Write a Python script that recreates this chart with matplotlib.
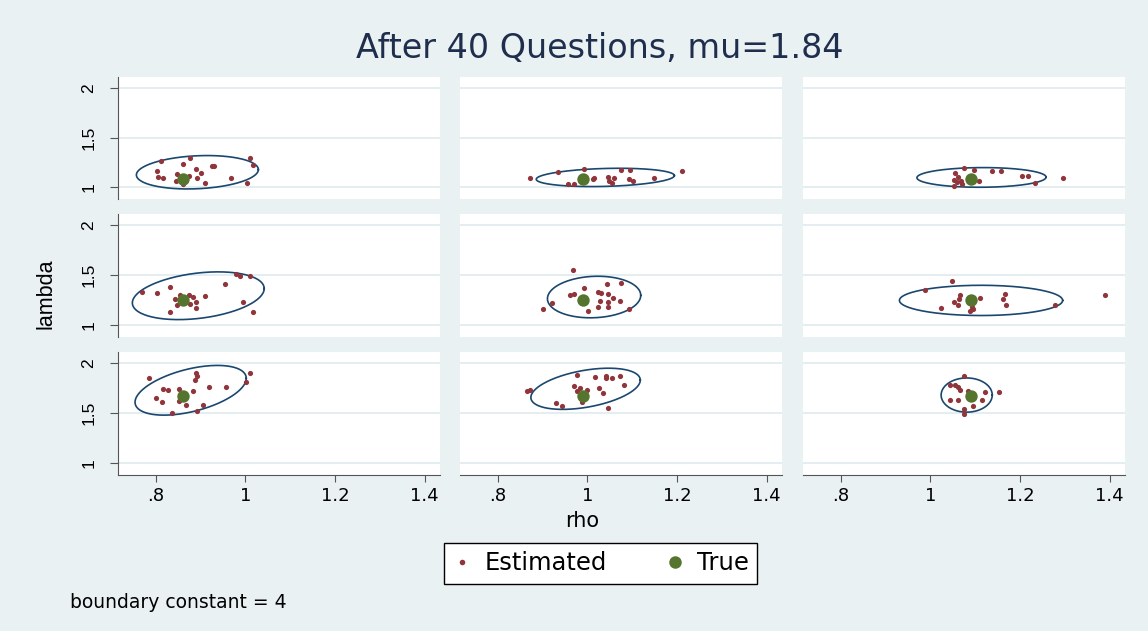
import numpy as np
import matplotlib
matplotlib.use("Agg")
import matplotlib.pyplot as plt
from matplotlib.lines import Line2D

# true parameter values: rho varies by column, lambda by row
true_rho = [0.86, 0.99, 1.09]
true_lam = [1.085, 1.255, 1.675]

# estimated (rho, lambda) pairs for each cell, row by row
rho_r1c1 = [0.811, 0.876, 1.011, 1.017, 0.861, 0.926, 0.931, 0.890, 0.802, 0.902,
            0.847, 0.874, 0.806, 0.817, 0.893, 0.968, 0.846, 0.862, 0.910, 1.004]
lam_r1c1 = [1.269, 1.296, 1.296, 1.228, 1.231, 1.218, 1.211, 1.188, 1.161, 1.145,
            1.131, 1.115, 1.101, 1.098, 1.091, 1.098, 1.060, 1.037, 1.047, 1.044]

rho_r1c2 = [0.871, 0.934, 0.992, 1.074, 1.096, 1.210, 0.956, 0.971, 1.012, 1.015,
            1.047, 1.060, 1.049, 1.056, 1.093, 1.101, 1.149]
lam_r1c2 = [1.091, 1.151, 1.181, 1.178, 1.171, 1.161, 1.030, 1.034, 1.088, 1.095,
            1.108, 1.095, 1.067, 1.047, 1.080, 1.060, 1.091]

rho_r1c3 = [1.076, 1.098, 1.138, 1.157, 1.054, 1.062, 1.052, 1.068, 1.059, 1.070,
            1.053, 1.109, 1.205, 1.218, 1.233, 1.295]
lam_r1c3 = [1.195, 1.178, 1.168, 1.168, 1.145, 1.108, 1.077, 1.067, 1.050, 1.034,
            1.014, 1.060, 1.115, 1.118, 1.044, 1.091]

rho_r2c1 = [0.770, 0.802, 0.833, 0.842, 0.854, 0.864, 0.874, 0.884, 0.890, 0.876,
            0.848, 0.890, 0.832, 0.910, 0.954, 0.980, 0.989, 1.011, 0.994, 1.017]
lam_r2c1 = [1.330, 1.324, 1.385, 1.263, 1.304, 1.256, 1.304, 1.280, 1.233, 1.213,
            1.196, 1.172, 1.128, 1.290, 1.415, 1.510, 1.489, 1.492, 1.226, 1.128]

rho_r2c2 = [0.969, 0.992, 1.043, 1.076, 0.961, 0.971, 1.023, 1.030, 1.045, 1.058,
            1.029, 1.047, 1.073, 1.023, 1.046, 1.002, 0.921, 0.902, 1.092]
lam_r2c2 = [1.547, 1.371, 1.408, 1.418, 1.304, 1.314, 1.330, 1.320, 1.314, 1.270,
            1.243, 1.229, 1.239, 1.175, 1.182, 1.142, 1.223, 1.162, 1.158]

rho_r2c3 = [1.048, 0.989, 1.067, 1.063, 1.052, 1.061, 1.024, 1.110, 1.093, 1.089,
            1.096, 1.167, 1.163, 1.168, 1.279, 1.389]
lam_r2c3 = [1.439, 1.355, 1.297, 1.263, 1.233, 1.196, 1.172, 1.270, 1.178, 1.135,
            1.155, 1.314, 1.259, 1.196, 1.196, 1.297]

rho_r3c1 = [0.785, 0.889, 0.893, 0.887, 1.010, 1.002, 0.817, 0.827, 0.852, 0.883,
            0.918, 0.956, 0.800, 0.815, 0.852, 0.867, 0.905, 0.836, 0.893]
lam_r3c1 = [1.850, 1.900, 1.870, 1.837, 1.900, 1.817, 1.740, 1.734, 1.744, 1.727,
            1.764, 1.767, 1.657, 1.617, 1.627, 1.580, 1.584, 1.504, 1.517]

rho_r3c2 = [0.976, 1.017, 1.041, 1.041, 1.056, 1.073, 1.082, 0.971, 0.984, 0.978,
            1.000, 1.027, 1.035, 0.989, 0.930, 0.943, 1.047, 0.865, 0.872]
lam_r3c2 = [1.884, 1.867, 1.877, 1.850, 1.850, 1.874, 1.784, 1.770, 1.754, 1.727,
            1.734, 1.754, 1.700, 1.610, 1.600, 1.567, 1.547, 1.724, 1.734]

rho_r3c3 = [1.074, 1.044, 1.056, 1.061, 1.065, 1.084, 1.121, 1.152, 1.044, 1.061,
            1.116, 1.096, 1.074, 1.076]
lam_r3c3 = [1.877, 1.784, 1.784, 1.760, 1.734, 1.727, 1.717, 1.710, 1.637, 1.630,
            1.634, 1.570, 1.537, 1.487]

est_rho = [[rho_r1c1, rho_r1c2, rho_r1c3],
           [rho_r2c1, rho_r2c2, rho_r2c3],
           [rho_r3c1, rho_r3c2, rho_r3c3]]
est_lam = [[lam_r1c1, lam_r1c2, lam_r1c3],
           [lam_r2c1, lam_r2c2, lam_r2c3],
           [lam_r3c1, lam_r3c2, lam_r3c3]]

# confidence ellipses: centre, half-extents, and tilt (sin of phase shift)
ell_cx = [[0.893, 1.040, 1.114], [0.895, 1.015, 1.113], [0.878, 0.996, 1.081]]
ell_cy = [[1.151, 1.099, 1.099], [1.293, 1.280, 1.246], [1.730, 1.745, 1.682]]
ell_rx = [[0.136, 0.154, 0.144], [0.147, 0.104, 0.182], [0.124, 0.122, 0.057]]
ell_ry = [[0.168, 0.092, 0.099], [0.240, 0.209, 0.152], [0.250, 0.207, 0.172]]
ell_tilt = [[0.16, 0.20, 0.03], [0.30, 0.08, 0.00], [0.48, 0.42, 0.00]]

xticks = [0.8, 1.0, 1.2, 1.4]
xticklabels = [".8", "1", "1.2", "1.4"]
yticks = [1.0, 1.5, 2.0]
yticklabels = ["1", "1.5", "2"]

BG = "#e9f1f3"
GRID = "#dfeaee"
MAROON = "#90353b"
GREEN = "#55752f"
NAVY = "#1a476f"
AXC = "#555555"

W, H = 1148, 631
fig = plt.figure(figsize=(W / 100, H / 100), dpi=100, facecolor=BG)

col_left = [118, 460, 803]
row_top = [76.7, 214.3, 352.3]
pw, ph = 322, 122.5

t = np.linspace(0, 2 * np.pi, 300)

for r in range(3):
    for c in range(3):
        ax = fig.add_axes([col_left[c] / W, 1 - (row_top[r] + ph) / H, pw / W, ph / H])
        ax.set_facecolor("white")
        ax.set_xlim(0.716, 1.434)
        ax.set_ylim(0.88, 2.112)
        for s in ax.spines.values():
            s.set_visible(False)
        ax.set_yticks(yticks)
        ax.set_xticks(xticks)
        ax.grid(axis="y", color=GRID, linewidth=1.2)
        ax.set_axisbelow(True)

        if c == 0:
            ax.spines["left"].set_visible(True)
            ax.spines["left"].set_color(AXC)
            ax.set_yticklabels(yticklabels, rotation=90, va="center",
                               family="Liberation Sans", fontsize=12.5)
            ax.tick_params(axis="y", length=5.5, color=AXC, pad=10)
        else:
            ax.tick_params(axis="y", length=0, labelleft=False)

        if r == 2:
            ax.spines["bottom"].set_visible(True)
            ax.spines["bottom"].set_color(AXC)
            ax.set_xticklabels(xticklabels, family="DejaVu Sans", fontsize=13)
            ax.tick_params(axis="x", length=5, color=AXC, pad=3.5)
        else:
            ax.tick_params(axis="x", length=0, labelbottom=False)

        phi = np.arcsin(ell_tilt[r][c])
        ex = ell_cx[r][c] + ell_rx[r][c] * np.cos(t)
        ey = ell_cy[r][c] + ell_ry[r][c] * np.sin(t + phi)
        ax.plot(ex, ey, color=NAVY, linewidth=1.2, zorder=2)

        ax.scatter(est_rho[r][c], est_lam[r][c], s=14, color=MAROON,
                   linewidths=0, zorder=3)
        ax.scatter([true_rho[c]], [true_lam[r]], s=80, color=GREEN,
                   linewidths=0, zorder=4)

fig.text(599.5 / W, 1 - 58 / H, "After 40 Questions, mu=1.84", ha="center",
         va="baseline", fontsize=24, color="#1f2e4c", family="DejaVu Sans")
fig.text(46 / W, 1 - 294 / H, "lambda", rotation=90, ha="center", va="center",
         fontsize=15.5, family="Liberation Sans", color="black")
fig.text(582 / W, 1 - 521 / H, "rho", ha="center", va="center",
         fontsize=15, family="DejaVu Sans", color="black")
fig.text(70 / W, 1 - 603 / H, "boundary constant = 4", ha="left", va="center",
         fontsize=13.5, family="DejaVu Sans", color="black")

handles = [
    Line2D([], [], marker="o", linestyle="", color=MAROON, markersize=4,
           markeredgewidth=0, label="Estimated"),
    Line2D([], [], marker="o", linestyle="", color=GREEN, markersize=9,
           markeredgewidth=0, label="True"),
]
leg = fig.legend(handles=handles, loc="center", ncol=2,
                 bbox_to_anchor=(600.5 / W, 1 - 563.5 / H),
                 prop={"family": "DejaVu Sans", "size": 17.5},
                 frameon=True, fancybox=False, edgecolor="black",
                 framealpha=1, handlelength=0.8, handletextpad=0.5,
                 columnspacing=2.4, borderpad=0.35, borderaxespad=0)
leg.get_frame().set_linewidth(1.0)

fig.savefig("out.png", dpi=100, facecolor=BG)
